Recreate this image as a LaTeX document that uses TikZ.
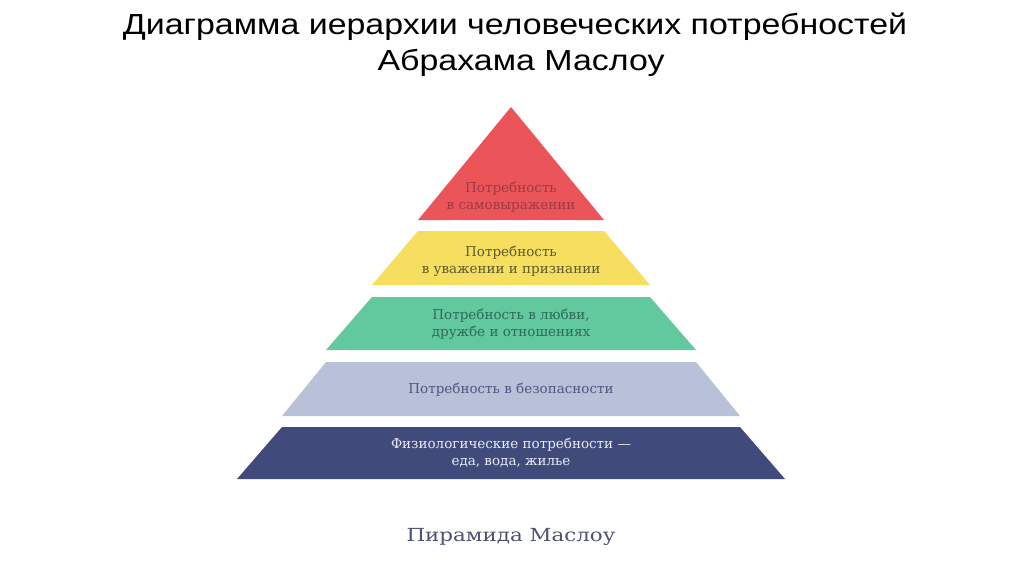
\documentclass[tikz,border=0pt]{standalone}
\usepackage{fontspec}
\setmainfont{DejaVu Serif}
\newfontfamily\titlefont{Liberation Sans}
\definecolor{lred}{HTML}{EB5458}
\definecolor{lyellow}{HTML}{F6DE5E}
\definecolor{lgreen}{HTML}{62C89D}
\definecolor{lgray}{HTML}{B8C1D7}
\definecolor{lnavy}{HTML}{404B7C}
\definecolor{tred}{HTML}{9C3C44}
\definecolor{tyellow}{HTML}{5C5A34}
\definecolor{tgreen}{HTML}{2E6B5A}
\definecolor{tgray}{HTML}{4D5784}
\definecolor{tnavy}{HTML}{E9EBF3}
\definecolor{tbottom}{HTML}{4C5273}
\tikzset{
  lbl/.style={align=center, font=\fontsize{13.5}{17}\selectfont, inner sep=0pt},
  ttl/.style={anchor=base, font=\titlefont\fontsize{29}{34}\selectfont, inner sep=0pt, xscale=1.17}
}
\begin{document}
\begin{tikzpicture}[x=1pt,y=-1pt]
\useasboundingbox (0,0) rectangle (1024,574);
\fill[white] (0,0) rectangle (1024,574);
% layers
\fill[lred] (511,107) -- (604,220) -- (418,220) -- cycle;
\fill[lyellow] (418,231) -- (604,231) -- (650,285) -- (372,285) -- cycle;
\fill[lgreen] (372,297) -- (650,297) -- (696,350) -- (326,350) -- cycle;
\fill[lgray] (326,362) -- (696,362) -- (740,416) -- (282,416) -- cycle;
\fill[lnavy] (282,427) -- (740,427) -- (785,479) -- (237,479) -- cycle;
% texts
\node[ttl] (title1) at (515,34) {Диаграмма иерархии человеческих потребностей};
\node[ttl] (title2) at (521,70) {Абрахама Маслоу};
\node[lbl, text=tred] (t1) at (511,197) {Потребность\\в самовыражении};
\node[lbl, text=tyellow] (t2) at (511,261) {Потребность\\в уважении и признании};
\node[lbl, text=tgreen] (t3) at (511,324) {Потребность в любви,\\дружбе и отношениях};
\node[lbl, text=tgray] (t4) at (511,390) {Потребность в безопасности};
\node[lbl, text=tnavy] (t5) at (511,453) {Физиологические потребности —\\еда, вода, жилье};
\node[font=\fontsize{18}{22}\selectfont, text=tbottom, inner sep=0pt, xscale=1.19] (bottom) at (511,537) {Пирамида Маслоу};
\end{tikzpicture}
\end{document}
